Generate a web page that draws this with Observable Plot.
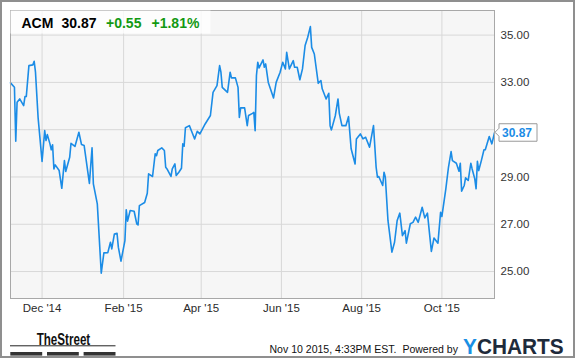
<!DOCTYPE html>
<html>
<head>
<meta charset="utf-8">
<script src="https://cdn.jsdelivr.net/npm/d3@7"></script>
<script src="https://cdn.jsdelivr.net/npm/@observablehq/plot@0.6"></script>
<style>
  html, body { margin: 0; padding: 0; background: #ffffff; }
  #chart svg { display: block; }
</style>
</head>
<body>
<div id="chart"></div>
<script>
// ---- Data ----
const ticker = "ACM";
const lastPrice = 30.87;
const change = 0.55;
const changePct = 1.81;
const timestamp = "Nov 10 2015, 4:33PM EST.";
const poweredBy = "Powered by";

const dates = [
"2014-11-07","2014-11-10","2014-11-11","2014-11-12","2014-11-14","2014-11-17","2014-11-18","2014-11-19","2014-11-21","2014-11-24","2014-11-25","2014-11-26","2014-11-28",
"2014-12-01","2014-12-03","2014-12-04","2014-12-05","2014-12-07","2014-12-08","2014-12-09","2014-12-10","2014-12-11","2014-12-14","2014-12-16","2014-12-18","2014-12-19","2014-12-22","2014-12-23","2014-12-26","2014-12-29","2014-12-31",
"2015-01-02","2015-01-06","2015-01-08","2015-01-09","2015-01-12","2015-01-15","2015-01-17","2015-01-20","2015-01-22","2015-01-23","2015-01-25","2015-01-27","2015-01-28","2015-01-30",
"2015-02-02","2015-02-03","2015-02-04","2015-02-06","2015-02-09","2015-02-11","2015-02-12","2015-02-13","2015-02-17","2015-02-19","2015-02-20","2015-02-23","2015-02-25","2015-02-26","2015-02-27",
"2015-03-02","2015-03-04","2015-03-05","2015-03-06","2015-03-09","2015-03-10","2015-03-12","2015-03-13","2015-03-15","2015-03-17","2015-03-18","2015-03-19","2015-03-20","2015-03-23","2015-03-25","2015-03-27","2015-03-29","2015-03-31",
"2015-04-04","2015-04-08","2015-04-10","2015-04-13","2015-04-15","2015-04-16","2015-04-17","2015-04-21","2015-04-23","2015-04-24","2015-04-27","2015-04-29","2015-04-30",
"2015-05-01","2015-05-04","2015-05-06","2015-05-07","2015-05-10","2015-05-11","2015-05-12","2015-05-13","2015-05-14","2015-05-15","2015-05-18","2015-05-19","2015-05-20","2015-05-22","2015-05-26","2015-05-28","2015-05-31",
"2015-06-02","2015-06-04","2015-06-05","2015-06-07","2015-06-10","2015-06-11","2015-06-13","2015-06-15","2015-06-17","2015-06-19","2015-06-21","2015-06-23","2015-06-24","2015-06-26","2015-06-29",
"2015-07-01","2015-07-02","2015-07-05","2015-07-07","2015-07-08","2015-07-09","2015-07-12","2015-07-14","2015-07-15","2015-07-17","2015-07-20","2015-07-22","2015-07-24","2015-07-27","2015-07-28","2015-07-31",
"2015-08-02","2015-08-04","2015-08-07","2015-08-10","2015-08-12","2015-08-13","2015-08-14","2015-08-17","2015-08-18","2015-08-19","2015-08-21","2015-08-24","2015-08-26","2015-08-28","2015-08-30",
"2015-09-01","2015-09-03","2015-09-04","2015-09-07","2015-09-09","2015-09-11","2015-09-13","2015-09-16","2015-09-18","2015-09-20","2015-09-23","2015-09-25","2015-09-28","2015-09-30",
"2015-10-01","2015-10-04","2015-10-06","2015-10-08","2015-10-09","2015-10-12","2015-10-14","2015-10-15","2015-10-16","2015-10-18","2015-10-19","2015-10-21","2015-10-23","2015-10-24","2015-10-26","2015-10-27","2015-10-28","2015-10-29","2015-10-31",
"2015-11-02","2015-11-03","2015-11-06","2015-11-08","2015-11-10"
];

const prices = [
32.98,32.79,30.51,32.16,32.30,32.02,32.40,32.40,33.71,33.74,33.89,33.43,31.50,
29.66,30.96,30.54,30.79,30.40,30.15,30.36,29.34,29.51,29.27,28.52,29.69,29.23,29.83,30.42,30.29,30.89,30.37,
30.33,28.73,30.23,28.71,27.86,24.93,25.79,25.80,26.24,25.96,26.59,26.62,26.03,25.44,
26.31,27.61,27.13,27.58,27.55,27.02,26.97,27.79,27.92,28.31,29.13,29.02,29.98,29.90,30.12,
30.23,30.12,29.41,29.34,29.02,29.34,29.55,29.06,29.20,29.37,30.40,30.30,31.08,31.17,30.89,30.61,30.93,30.82,
31.24,31.60,32.58,32.86,33.71,33.43,32.79,32.58,33.43,33.19,33.19,32.79,31.52,
31.92,31.92,31.17,31.60,31.69,31.73,30.96,33.29,33.85,33.61,33.95,33.64,33.78,33.00,32.34,33.00,33.43,
33.85,33.57,34.27,33.57,33.92,33.64,33.64,33.11,33.57,34.56,34.91,35.36,34.48,34.20,32.96,
33.08,32.73,32.30,32.54,31.17,30.99,31.60,32.30,31.69,31.17,31.17,31.55,30.19,29.55,30.61,30.82,
30.61,30.68,30.26,31.17,29.41,28.99,29.02,28.64,29.20,28.99,27.16,25.82,26.24,27.16,27.47,
26.52,26.73,26.20,27.02,27.08,27.30,27.08,27.72,27.27,27.47,25.85,26.42,26.20,27.51,
27.33,28.50,29.41,30.07,29.69,29.58,29.24,29.58,28.40,28.64,28.96,28.85,29.58,29.34,28.92,28.50,29.66,29.27,29.69,
30.15,30.15,30.71,30.40,30.87
];

const xTickDates = ["2014-12-01","2015-02-01","2015-04-01","2015-06-01","2015-08-01","2015-10-01"];
const yGridValues = [25, 27, 29, 31, 33, 35];
const yLabelValues = [25, 27, 29, 33, 35]; // the 31.00 label is hidden behind the last-price marker
const xDomain = ["2014-11-07", "2015-11-10"];
const yDomain = [23.86, 36.04];

// ---- Build ----
const data = dates.map((d, i) => ({date: new Date(d), price: prices[i]}));
const xTicks = xTickDates.map(d => new Date(d));

const blue = "#1b8ce6";
const green = "#139913";
const font = "'Liberation Sans', Arial, sans-serif";

const chart = Plot.plot({
  width: 575,
  height: 358,
  marginLeft: 10,
  marginRight: 81,
  marginTop: 10,
  marginBottom: 60,
  style: {fontFamily: font, fontSize: "11.5px", color: "#2a2a2a", background: "#ffffff"},
  x: {type: "utc", domain: xDomain.map(d => new Date(d)), label: null},
  y: {domain: yDomain, label: null},
  marks: [
    Plot.frame({fill: "#f6f6f6", stroke: null}),
    Plot.gridX(xTicks, {stroke: "#d8d8d8", strokeOpacity: 1}),
    Plot.gridY(yGridValues, {stroke: "#d8d8d8", strokeOpacity: 1}),
    Plot.axisX(xTicks, {tickSize: 0, tickPadding: 5, tickFormat: d3.utcFormat("%b '%y"), label: null}),
    Plot.axisY(yLabelValues, {anchor: "right", tickSize: 0, tickPadding: 6, tickFormat: d3.format(".2f"), label: null, fill: "#333"}),
    Plot.lineY(data, {x: "date", y: "price", stroke: blue, strokeWidth: 1.6}),
    Plot.frame({stroke: "#a8a8a8"})
  ]
});

const svg = d3.select(chart);
const sx = chart.scale("x"), sy = chart.scale("y");

// outer border
svg.append("rect").attr("x", 1).attr("y", 1).attr("width", 573).attr("height", 356)
  .attr("fill", "none").attr("stroke", "#8f8f8f").attr("stroke-width", 2);

// header box
const hdr = svg.append("g").attr("text-anchor", "start");
hdr.append("rect").attr("x", 10.5).attr("y", 10.5).attr("width", 200).attr("height", 23)
  .attr("fill", "#ffffff").attr("fill-opacity", 0.78);
const hText = hdr.append("g").attr("font-family", font)
  .attr("font-size", 14).attr("font-weight", "bold");
hText.append("text").attr("x", 21.5).attr("y", 28.3).attr("fill", "#000").text(ticker);
hText.append("text").attr("x", 61.5).attr("y", 28.3).attr("fill", "#000").text(lastPrice.toFixed(2));
hText.append("text").attr("x", 106).attr("y", 28.3).attr("fill", green).text("+" + change.toFixed(2));
hText.append("text").attr("x", 151.5).attr("y", 28.3).attr("fill", green).text("+" + changePct.toFixed(2) + "%");

// last price marker on the right axis
const last = data[data.length - 1];
const px = sx.apply(last.date) + 1, py = sy.apply(last.price);
const mk = svg.append("g").attr("text-anchor", "start");
mk.append("path")
  .attr("d", `M${px + 4},${py - 8.5} H${px + 42} V${py + 9} H${px + 4} V${py + 4} L${px},${py} L${px + 4},${py - 4} Z`)
  .attr("fill", "#ffffff").attr("stroke", "#9a9a9a").attr("stroke-width", 1);
mk.append("text").attr("x", px + 7).attr("y", py + 4.3)
  .attr("font-family", font).attr("font-size", 12).attr("font-weight", "bold")
  .attr("fill", blue).text(last.price.toFixed(2));

// footer: TheStreet logo
const ft = svg.append("g").attr("font-family", font).attr("text-anchor", "start");
ft.append("text").attr("x", 36.7).attr("y", 344.6).attr("font-size", 16).attr("font-weight", "bold")
  .attr("fill", "#111").attr("textLength", 53.5).attr("lengthAdjust", "spacingAndGlyphs").text("TheStreet");
ft.append("line").attr("x1", 10).attr("x2", 115.5).attr("y1", 345.8).attr("y2", 345.8)
  .attr("stroke", "#222").attr("stroke-width", 1);
[[10.3, 42.2], [47, 78.8], [83.6, 115.5]].forEach(([a, b]) => {
  ft.append("rect").attr("x", a).attr("y", 352).attr("width", b - a).attr("height", 3.6).attr("fill", "#333");
});

// footer: timestamp + YCHARTS
ft.append("text").attr("x", 269.5).attr("y", 353.3).attr("font-size", 10.6).attr("fill", "#111")
  .attr("textLength", 188.5).attr("lengthAdjust", "spacingAndGlyphs")
  .text(timestamp + "  " + poweredBy);
const yc = ft.append("text").attr("x", 463).attr("y", 354).attr("font-size", 22.5).attr("font-weight", "bold")
  .attr("textLength", 100.6).attr("lengthAdjust", "spacingAndGlyphs");
yc.append("tspan").attr("fill", "#1a90e4").text("Y");
yc.append("tspan").attr("fill", "#1e2a3a").text("CHARTS");

document.getElementById("chart").appendChild(chart);
</script>
</body>
</html>
